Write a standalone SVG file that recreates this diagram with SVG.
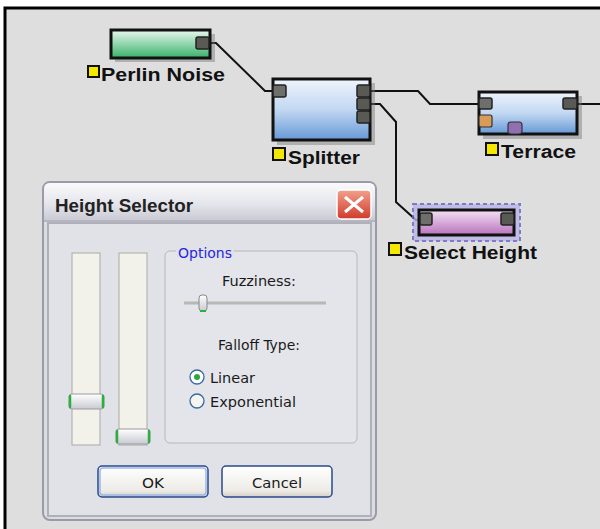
<svg xmlns="http://www.w3.org/2000/svg" width="600" height="529" viewBox="0 0 600 529">
<defs>
<linearGradient id="gGreen" x1="0" y1="0" x2="0" y2="1"><stop offset="0" stop-color="#eaf8ef"/><stop offset="1" stop-color="#38b26a"/></linearGradient>
<linearGradient id="gBlue" x1="0" y1="0" x2="0" y2="1"><stop offset="0" stop-color="#eef4fc"/><stop offset="0.5" stop-color="#c2d8f2"/><stop offset="1" stop-color="#6699d6"/></linearGradient>
<linearGradient id="gPurple" x1="0" y1="0" x2="0" y2="1"><stop offset="0" stop-color="#f5e2f5"/><stop offset="1" stop-color="#b772bd"/></linearGradient>
<linearGradient id="gTitle" x1="0" y1="0" x2="0" y2="1"><stop offset="0" stop-color="#fafafc"/><stop offset="0.6" stop-color="#e3e4ea"/><stop offset="1" stop-color="#c9cad3"/></linearGradient>
<linearGradient id="gClose" x1="0" y1="0" x2="0" y2="1"><stop offset="0" stop-color="#f2a08c"/><stop offset="1" stop-color="#d03a2a"/></linearGradient>
<linearGradient id="gBtn" x1="0" y1="0" x2="0" y2="1"><stop offset="0" stop-color="#ffffff"/><stop offset="0.8" stop-color="#ecebe6"/><stop offset="1" stop-color="#d6d0c5"/></linearGradient>
<linearGradient id="gThumb" x1="0" y1="0" x2="0" y2="1"><stop offset="0" stop-color="#ffffff"/><stop offset="1" stop-color="#c9cad2"/></linearGradient>
<style>
.node{stroke:#111;stroke-width:3}
.shadow{fill:#777;opacity:0.45}
.port{fill:#5a5a55;stroke:#222;stroke-width:1.5}
.portin{fill:#6e6e6a;stroke:#222;stroke-width:1.5}
.lbl{font-family:"Liberation Sans",Arial,sans-serif;font-weight:bold;font-size:18px;fill:#111}
.ysq{fill:#f5e800;stroke:#111;stroke-width:2}
.wire{fill:none;stroke:#111;stroke-width:2}
.ui{font-family:"DejaVu Sans Condensed","Liberation Sans",sans-serif;font-size:14.5px;fill:#1a1a1a}
.track{fill:#f3f2ea;stroke:#a9a9a4;stroke-width:1}
.thumb{fill:url(#gThumb);stroke:#9a9aa2;stroke-width:1}
.cap{stroke:#2bb040;stroke-width:2.5;fill:none;stroke-linecap:round}
</style>
</defs>
<rect x="0" y="0" width="600" height="529" fill="#ffffff"/>
<rect x="5" y="8" width="600" height="530" fill="#dedede" stroke="#000" stroke-width="3"/>

<g id="connectors">
<polyline class="wire" points="205,43 216,43 265,91 280,91"/>
<polyline class="wire" points="365,91 418,91 430,104 485,104"/>
<polyline class="wire" points="570,104 600,104"/>
<polyline class="wire" points="365,104 380,104 396,122 396,202 416,220 425,220"/>
</g>

<g id="perlin-noise">
<rect class="shadow" x="115" y="34" width="100" height="28"/>
<rect class="node" x="111" y="30" width="99" height="28" fill="url(#gGreen)"/>
<rect class="port" x="196" y="37" width="13" height="12" rx="2"/>
<rect class="ysq" x="88" y="66" width="11" height="11"/>
<text class="lbl" x="101" y="81" textLength="124" lengthAdjust="spacingAndGlyphs">Perlin Noise</text>
</g>

<g id="splitter">
<rect class="shadow" x="277" y="83" width="98" height="62"/>
<rect class="node" x="273" y="79" width="97" height="61" fill="url(#gBlue)"/>
<rect class="portin" x="273" y="85" width="13" height="12" rx="2"/>
<rect class="port" x="357" y="85" width="13" height="12" rx="2"/>
<rect class="port" x="357" y="98" width="13" height="12" rx="2"/>
<rect class="port" x="357" y="111" width="13" height="12" rx="2"/>
<rect class="ysq" x="273" y="148" width="12" height="12"/>
<text class="lbl" x="288" y="164" textLength="72" lengthAdjust="spacingAndGlyphs">Splitter</text>
</g>

<g id="terrace">
<rect class="shadow" x="483" y="96" width="99" height="43"/>
<rect class="node" x="479" y="92" width="98" height="42" fill="url(#gBlue)"/>
<rect class="portin" x="479" y="98" width="13" height="11" rx="2"/>
<rect x="479" y="115" width="13" height="12" rx="2" fill="#d99a5a" stroke="#333" stroke-width="1.2"/>
<rect x="508" y="122" width="14" height="12" rx="3" fill="#9070b0" stroke="#333" stroke-width="1.2"/>
<rect class="port" x="563" y="98" width="14" height="11" rx="2"/>
<rect class="ysq" x="486" y="143" width="12" height="12"/>
<text class="lbl" x="501" y="158" textLength="75" lengthAdjust="spacingAndGlyphs">Terrace</text>
</g>

<g id="select-height">
<rect x="413" y="204" width="107" height="37" fill="#b8b4e8" opacity="0.8" stroke="#6a60c8" stroke-width="2" stroke-dasharray="4,3"/>
<rect class="node" x="419" y="210" width="95" height="25" fill="url(#gPurple)"/>
<rect class="portin" x="420" y="213" width="12" height="12" rx="2"/>
<rect class="port" x="501" y="213" width="13" height="12" rx="2"/>
<rect class="ysq" x="389" y="243" width="12" height="12"/>
<text class="lbl" x="404" y="259" textLength="133" lengthAdjust="spacingAndGlyphs">Select Height</text>
</g>

<g id="height-selector-dialog">
<rect x="43" y="182" width="333" height="338" rx="7" fill="#dcdde3" stroke="#9a9aa8" stroke-width="2"/>
<path d="M44,220 V189 Q44,183 50,183 H369 Q375,183 375,189 V220 Z" fill="url(#gTitle)"/>
<line x1="44" y1="221" x2="375" y2="221" stroke="#a8a8b4" stroke-width="1.5"/>
<rect x="48" y="223" width="323" height="293" fill="#e1e2e8" stroke="#b0b0bb" stroke-width="2"/>
<text x="55" y="212" font-family="'Liberation Sans',Arial,sans-serif" font-weight="bold" font-size="18" fill="#222" textLength="138" lengthAdjust="spacingAndGlyphs">Height Selector</text>
<rect x="337" y="190" width="34" height="29" rx="4" fill="url(#gClose)" stroke="#fff" stroke-width="1.5"/>
<path d="M345,197 L363,212 M363,197 L345,212" stroke="#fff" stroke-width="3"/>

<rect class="track" x="72" y="253" width="28" height="192"/>
<rect class="track" x="119" y="253" width="28" height="192"/>
<rect class="thumb" x="69" y="394" width="35" height="15" rx="3"/>
<line class="cap" x1="70" y1="396" x2="70" y2="407"/>
<line class="cap" x1="103" y1="396" x2="103" y2="407"/>
<rect class="thumb" x="116" y="429" width="34" height="15" rx="3"/>
<line class="cap" x1="117" y1="431" x2="117" y2="442"/>
<line class="cap" x1="149" y1="431" x2="149" y2="442"/>

<rect x="165" y="251" width="192" height="192" rx="5" fill="#e4e5ea" stroke="#b5b6bf" stroke-width="1"/>
<rect x="176" y="245" width="58" height="12" fill="#e1e2e8"/>
<text class="ui" x="178" y="258" style="fill:#2626e0" textLength="54" lengthAdjust="spacingAndGlyphs">Options</text>
<text class="ui" x="259" y="286" text-anchor="middle" textLength="74" lengthAdjust="spacingAndGlyphs">Fuzziness:</text>
<line x1="184" y1="303" x2="326" y2="303" stroke="#b8b8b4" stroke-width="3"/>
<rect x="199" y="295" width="8" height="16" rx="3" fill="url(#gThumb)" stroke="#888" stroke-width="1"/>
<line x1="200" y1="311" x2="206" y2="311" stroke="#2bb040" stroke-width="2"/>
<text class="ui" x="259" y="350" text-anchor="middle" textLength="82" lengthAdjust="spacingAndGlyphs">Falloff Type:</text>
<circle cx="197" cy="377" r="7" fill="#fff" stroke="#3a6a9a" stroke-width="1.3"/>
<circle cx="197" cy="377" r="3" fill="#2aa840"/>
<text class="ui" x="210" y="383" textLength="45" lengthAdjust="spacingAndGlyphs">Linear</text>
<circle cx="197" cy="401" r="7" fill="#f4f4f0" stroke="#3a6a9a" stroke-width="1.3"/>
<text class="ui" x="210" y="407" textLength="86" lengthAdjust="spacingAndGlyphs">Exponential</text>

<rect x="98" y="466" width="110" height="31" rx="4" fill="url(#gBtn)" stroke="#2a4a8a" stroke-width="1.5"/>
<rect x="100" y="468" width="106" height="27" rx="3" fill="none" stroke="#9ab8e8" stroke-width="1.5"/>
<text class="ui" x="153" y="488" text-anchor="middle" textLength="22" lengthAdjust="spacingAndGlyphs">OK</text>
<rect x="222" y="466" width="110" height="31" rx="4" fill="url(#gBtn)" stroke="#2a4a8a" stroke-width="1.5"/>
<text class="ui" x="277" y="488" text-anchor="middle" textLength="50" lengthAdjust="spacingAndGlyphs">Cancel</text>
</g>
</svg>
